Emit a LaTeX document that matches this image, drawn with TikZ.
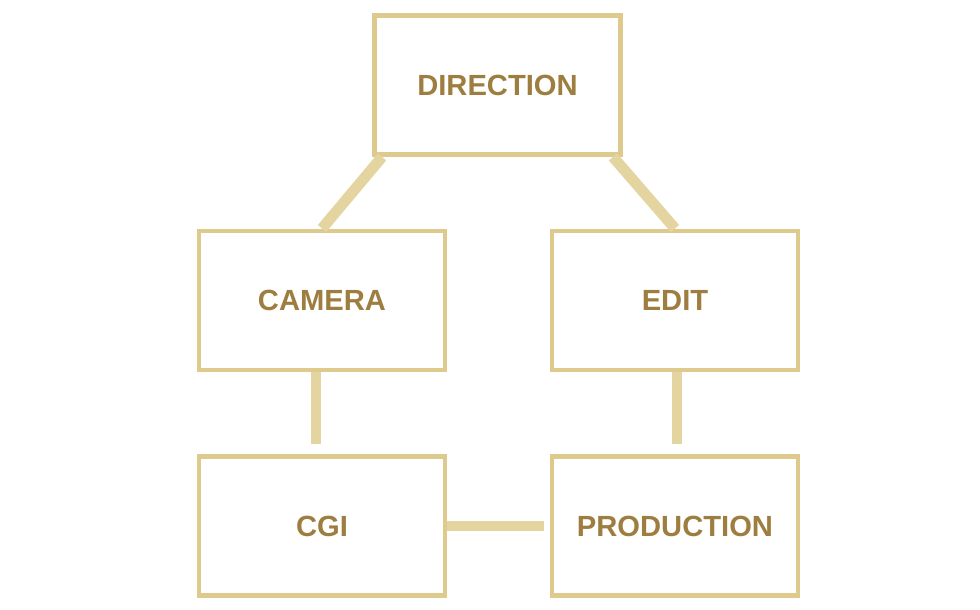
\documentclass[tikz,border=0pt]{standalone}
\usepackage{fontspec}
\setmainfont{Liberation Sans}
\usetikzlibrary{positioning}

\definecolor{boxgold}{RGB}{222,202,140}
\definecolor{linkgold}{RGB}{228,212,160}
\definecolor{textgold}{RGB}{158,126,64}

\begin{document}
\begin{tikzpicture}[
    every node/.style={font=\bfseries\fontsize{8.3}{10}\selectfont, text=textgold},
    stage/.style={draw=boxgold, line width=1.4pt, minimum width=2.46cm, minimum height=1.39cm},
    link/.style={draw=linkgold, line width=3.1pt}
  ]
  % Marco
  \useasboundingbox (0,0) rectangle (9.8,6.1);

  % Cajas
  \node[stage] (direction)  at (4.975,5.25) {DIRECTION};
  \node[stage] (camera)     at (3.22,3.095) {CAMERA};
  \node[stage] (edit)       at (6.75,3.095) {EDIT};
  \node[stage] (cgi)        at (3.22,0.84)  {CGI};
  \node[stage] (production) at (6.75,0.84)  {PRODUCTION};

  % Conexiones
  \draw[link] ([xshift=1mm]direction.south west) -- (camera.north);
  \draw[link] ([xshift=-1mm]direction.south east) -- (edit.north);
  \draw[link, shorten >=1mm] ([xshift=-0.6mm]camera.south) -- ([xshift=-0.6mm]cgi.north);
  \draw[link, shorten >=1mm] ([xshift=0.2mm]edit.south) -- ([xshift=0.2mm]production.north);
  \draw[link, shorten >=0.6mm] (cgi.east) -- (production.west);
\end{tikzpicture}
\end{document}
